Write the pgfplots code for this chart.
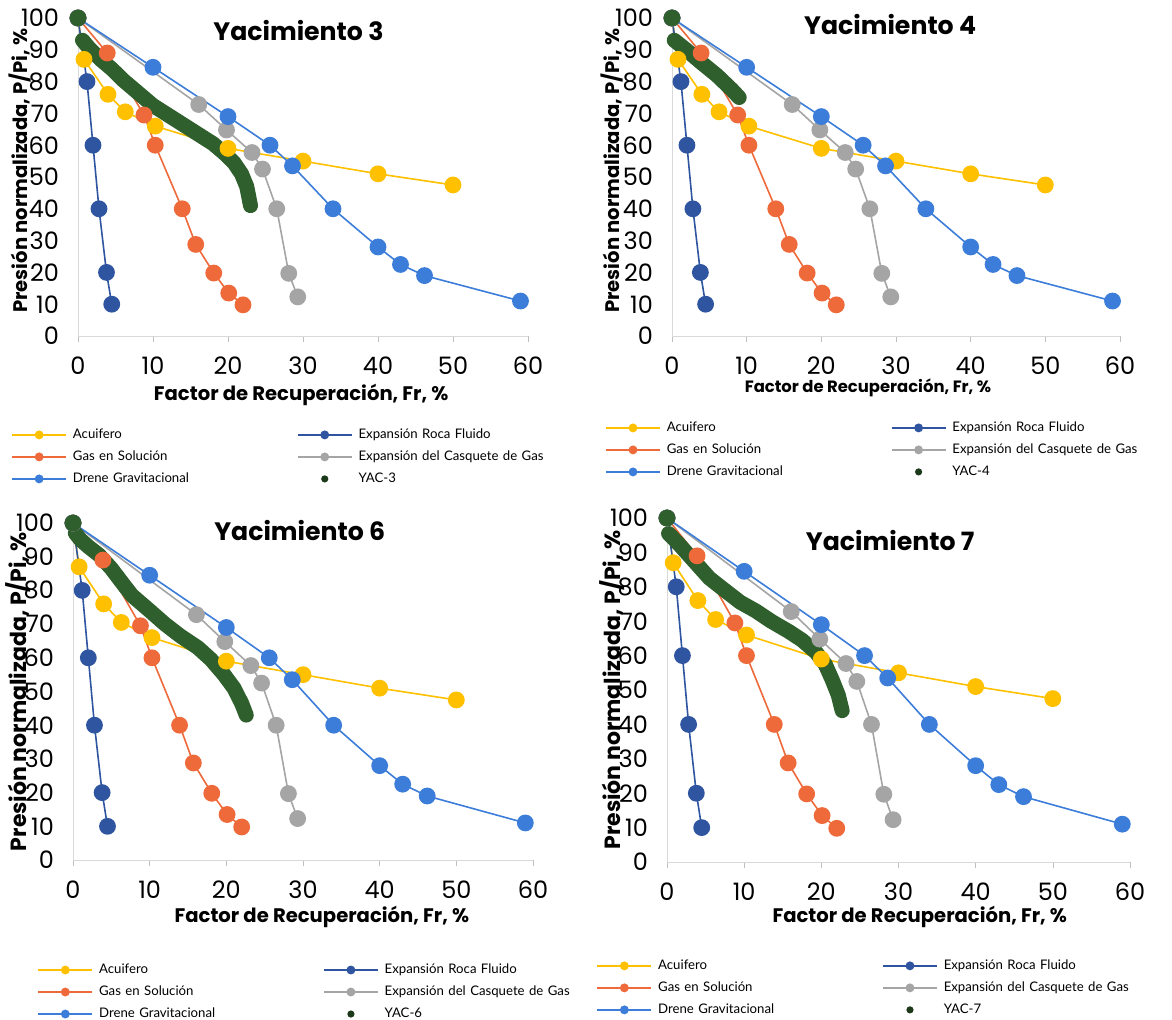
\documentclass[border=0pt]{standalone}
\usepackage{fontspec}
\setmainfont{Poppins}
\newfontfamily\legfont{Lato}
\usepackage{pgfplots}
\usepackage{pgfplotstable}
\pgfplotsset{compat=1.18}
\definecolor{cAcu}{HTML}{FFC000}
\definecolor{cRoca}{HTML}{2F55A0}
\definecolor{cGas}{HTML}{EE6A3A}
\definecolor{cCasq}{HTML}{A5A5A5}
\definecolor{cDrene}{HTML}{3C7DD9}
\definecolor{cYac}{HTML}{2F5F2C}

% curvas comunes a los cuatro yacimientos
\pgfplotstableread{
x y
0 100
0.8 87
4 76
6.3 70.5
10.3 66
20 59
30 55
40 51
50 47.5
}\acuifero
\pgfplotstableread{
x y
0 100
1.2 80
2 60
2.8 40
3.8 20
4.5 10
}\roca
\pgfplotstableread{
x y
0 100
3.9 89
8.8 69.5
10.3 60
13.9 40
15.7 28.8
18.1 19.8
20.1 13.5
22 9.8
}\gas
\pgfplotstableread{
x y
0 100
16.1 72.8
19.8 64.8
23.2 57.7
24.6 52.5
26.5 40
28.1 19.7
29.3 12.3
}\casquete
\pgfplotstableread{
x y
0 100
10 84.5
20 69
25.6 60
28.6 53.5
34 40
40 28
43 22.5
46.2 19
59 11
}\drene

% curvas de cada yacimiento
\pgfplotstableread{
x y
0.6 93
1.5 90.5
3 87
4.5 84
6 80.5
8 76.5
10 72.5
12 69.5
14 66.5
16 63.5
18 60.5
19.5 57.5
20.8 54.5
21.8 51
22.5 47
23 41
}\yacA
\pgfplotstableread{
x y
0.3 93
2 89.8
3.8 86.2
6 82
8 77.5
9 75
}\yacB
\pgfplotstableread{
x y
0.3 97
1 95
2 93
3.4 90.5
5 86.5
6.5 82
7.7 78.5
10 74
12 70
14 66.5
16.3 63
18 59.5
19.7 55
21 51
22 46.5
22.6 43
}\yacC
\pgfplotstableread{
x y
0.2 95.5
1.5 92.5
3.7 87
5.5 82.5
7.2 79.5
9.5 75.5
11.5 73
13.5 70
15.8 67
17.5 64.5
19.3 61
20.5 57.5
21.4 53
22.2 48.5
22.7 44
}\yacD

\pgfplotsset{
  panel/.style={
    scale only axis, clip=false,
    xmin=0, xmax=60, ymin=0, ymax=100,
    xtick={0,10,...,60}, ytick={0,10,...,100},
    axis x line*=bottom, axis y line*=left,
    axis line style={draw=black!15,-},
    xtick style={draw=black!25}, ytick style={draw=none},
    tick align=outside, major tick length=3pt,
    tick label style={font=\fontsize{12}{14}\selectfont},
    /pgf/number format/assume math mode=true,
    xticklabel style={yshift=-4pt}, yticklabel style={xshift=-3pt},
    every axis title shift=0pt,
    title style={font=\bfseries\fontsize{12.6}{15}\selectfont},
    label style={font=\bfseries\fontsize{9.8}{11}\selectfont},
    xlabel={Factor de Recuperación, Fr, \%},
    ylabel={Presión normalizada, P/Pi, \%},
    legend columns=2,
    legend style={draw=none, fill=none, anchor=north west, inner sep=0pt,
      font=\legfont\fontsize{6.6}{8}\selectfont,
      nodes={text width=108pt, inner sep=1pt, text height=5pt, text depth=1.5pt},
      row sep=2.5pt,
      /tikz/every odd column/.style={column sep=2pt},
      /tikz/every even column/.style={column sep=3pt}},
    legend image code/.code={\draw[mark repeat=2,mark phase=2,mark size=1.8pt]
      plot coordinates {(0pt,0pt)(13.5pt,0pt)(27pt,0pt)};},
    every axis plot/.append style={line width=0.8pt, mark=*, mark size=3.8pt},
  },
  yac/.style={color=cYac, line width=7.5pt, line cap=round, line join=round, mark=none,
    legend image code/.code={\path[fill=cYac!60!black, draw=none, line width=0pt]
      (13.5pt,0pt) circle[radius=1.8pt];}},
}

\newcommand\curvas{%
  \addplot[color=cAcu] table {\acuifero};
  \addplot[color=cRoca] table {\roca};
  \addplot[color=cGas] table {\gas};
  \addplot[color=cCasq] table {\casquete};
  \addplot[color=cDrene] table {\drene};
}

\begin{document}
\begin{tikzpicture}
\useasboundingbox (0,0) rectangle (586pt,-509.5pt);

\begin{axis}[panel, at={(39pt,-168pt)}, anchor=south west, width=225pt, height=159pt,
  title={Yacimiento 3}, title style={at={(axis description cs:0.49,0.962)}, anchor=center},
  xlabel style={at={(axis description cs:0.496,-0.186)}, anchor=center},
  ylabel style={at={(axis description cs:-0.129,0.52)}, anchor=center},
  legend style={at={(axis description cs:-0.149,-0.283)}}]
\curvas
\addplot[yac] table {\yacA};
\addplot[color=cYac, only marks, forget plot] coordinates {(0,100)};
\legend{Acuifero, Expansión Roca Fluido, Gas en Solución, Expansión del Casquete de Gas, Drene Gravitacional, YAC-3}
\end{axis}

\begin{axis}[panel, at={(336pt,-168pt)}, anchor=south west, width=224pt, height=159pt,
  title={Yacimiento 4}, title style={at={(axis description cs:0.487,0.978)}, anchor=center},
  xlabel style={at={(axis description cs:0.4375,-0.163)}, anchor=center,
    font=\bfseries\fontsize{8.2}{10}\selectfont},
  ylabel style={at={(axis description cs:-0.134,0.52)}, anchor=center},
  legend style={at={(axis description cs:-0.150,-0.261)}}]
\curvas
\addplot[yac] table {\yacB};
\addplot[color=cYac, only marks, forget plot] coordinates {(0,100)};
\legend{Acuifero, Expansión Roca Fluido, Gas en Solución, Expansión del Casquete de Gas, Drene Gravitacional, YAC-4}
\end{axis}

\begin{axis}[panel, at={(36.5pt,-430pt)}, anchor=south west, width=230pt, height=168.5pt,
  title={Yacimiento 6}, title style={at={(axis description cs:0.493,0.979)}, anchor=center},
  xlabel style={at={(axis description cs:0.541,-0.169)}, anchor=center},
  ylabel style={at={(axis description cs:-0.12,0.5)}, anchor=center,
    font=\bfseries\fontsize{11}{13}\selectfont},
  legend style={at={(axis description cs:-0.078,-0.300)}}]
\curvas
\addplot[yac] table {\yacC};
\addplot[color=cYac, only marks, forget plot] coordinates {(0,100)};
\legend{Acuifero, Expansión Roca Fluido, Gas en Solución, Expansión del Casquete de Gas, Drene Gravitacional, YAC-6}
\end{axis}

\begin{axis}[panel, at={(333.5pt,-431pt)}, anchor=south west, width=231.5pt, height=172pt,
  title={Yacimiento 7}, title style={at={(axis description cs:0.482,0.936)}, anchor=center},
  xlabel style={at={(axis description cs:0.546,-0.160)}, anchor=center},
  ylabel style={at={(axis description cs:-0.119,0.5)}, anchor=center,
    font=\bfseries\fontsize{11}{13}\selectfont},
  legend style={at={(axis description cs:-0.153,-0.276)}}]
\curvas
\addplot[yac] table {\yacD};
\addplot[color=cYac, only marks, forget plot] coordinates {(0,100)};
\legend{Acuifero, Expansión Roca Fluido, Gas en Solución, Expansión del Casquete de Gas, Drene Gravitacional, YAC-7}
\end{axis}
\end{tikzpicture}
\end{document}
